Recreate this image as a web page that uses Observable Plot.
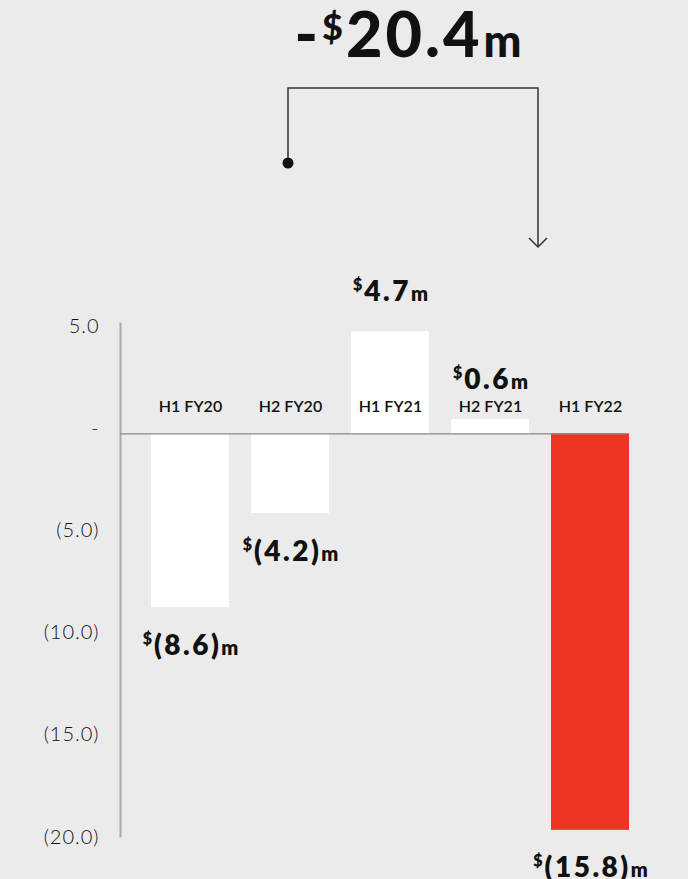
<!DOCTYPE html>
<html><head><meta charset="utf-8">
<script src="https://cdn.jsdelivr.net/npm/d3@7"></script>
<script src="https://cdn.jsdelivr.net/npm/@observablehq/plot@0.6"></script>
<style>
html,body{margin:0;padding:0;background:#ebebeb;}
#wrap{position:relative;width:688px;height:879px;overflow:hidden;background:#ebebeb;}
#head{position:absolute;left:0;top:0;overflow:visible;}
#chart{position:absolute;left:0;top:260px;}
</style></head><body>
<div id="wrap">
<svg id="head" width="688" height="260" font-family="Lato, sans-serif">
  <text id="headline" x="408" y="57" text-anchor="middle" font-size="63" font-weight="900" fill="#111"></text>
  <path d="M288,163V88H538V247" fill="none" stroke="#333" stroke-width="1.5"/>
  <path d="M529,238L538,247L547,238" fill="none" stroke="#333" stroke-width="1.5"/>
  <circle cx="288" cy="163" r="5.5" fill="#111"/>
</svg>
<div id="chart"></div>
</div>
<script>
// ---- data ----
const categories = ["H1 FY20", "H2 FY20", "H1 FY21", "H2 FY21", "H1 FY22"];
const barValues = [-8.5, -3.9, 5.0, 0.7, -19.4];          // bar ends as drawn
const valueLabels = ["(8.6)", "(4.2)", "4.7", "0.6", "(15.8)"];
const yTicks = [5, 0, -5, -10, -15, -20];
const highlight = "H1 FY22";
const headlineParts = ["-", "$", "20.4", "m"];

// ---- headline ----
const hl = d3.select("#headline");
hl.append("tspan").text(headlineParts[0]);
hl.append("tspan").attr("font-size", 36).attr("dy", -17).attr("dx", 4).text(headlineParts[1]);
hl.append("tspan").attr("dy", 17).attr("dx", 3).attr("letter-spacing", 3).text(headlineParts[2]);
hl.append("tspan").attr("font-size", 45).attr("dx", 1).text(headlineParts[3]);

// ---- chart ----
const data = categories.map((c, i) => ({cat: c, value: barValues[i], label: valueLabels[i]}));
const fmt = v => v === 0 ? "-" : v > 0 ? v.toFixed(1) : `(${Math.abs(v).toFixed(1)})`;
const labelFont = {fontSize: 28, fontWeight: 800, fill: "#111"};

const chart = Plot.plot({
  width: 688, height: 619,
  marginLeft: 120, marginRight: 28, marginTop: 63, marginBottom: 43,
  style: {background: "transparent", fontFamily: "Lato, sans-serif", overflow: "visible"},
  x: {domain: categories, paddingInner: 0.224, paddingOuter: 0.3, axis: null},
  y: {domain: [-19.7, 5.4], axis: null},
  color: {type: "identity"},
  marks: [
    Plot.barY(data, {x: "cat", y: "value", fill: d => d.cat === highlight ? "#ee3524" : "#ffffff"}),
    Plot.frame({anchor: "left", stroke: "#aaaaaa", strokeWidth: 2}),
    Plot.ruleY([0], {stroke: "#888888", strokeWidth: 1.3, insetRight: 34}),
    Plot.axisY(yTicks, {label: null, tickSize: 0, tickPadding: 21, tickFormat: fmt, fontSize: 20, fontWeight: 300, fill: "#111", dy: -5.5}),
    Plot.text(data, {x: "cat", y: 0, text: "cat", dy: -27, fontSize: 16, fontWeight: 600, fill: "#111"}),
    Plot.text(data.filter(d => d.value < 0), {x: "cat", y: "value", text: "label", dy: 38, ...labelFont}),
    Plot.text(data.filter(d => d.value >= 0), {x: "cat", y: "value", text: "label", dy: -40, ...labelFont})
  ]
});
document.getElementById("chart").appendChild(chart);

// axis tick letter spacing
d3.select(chart).selectAll("text").filter(function() { return /^\(?[\d.]+\)?$|^-$/.test(this.textContent) && !valueLabels.includes(this.textContent); })
  .attr("letter-spacing", 1);

// rich-text value labels: superscript $, bold number, small m
d3.select(chart).selectAll("text").filter(function() { return valueLabels.includes(this.textContent); }).each(function() {
  const t = this.textContent;
  const s = d3.select(this);
  s.text("");
  s.append("tspan").attr("font-size", 16).attr("dy", -11).text("$");
  s.append("tspan").attr("dy", 11).attr("dx", 2).attr("letter-spacing", 2.5).text(t);
  s.append("tspan").attr("font-size", 20).attr("dx", 0).text("m");
});
</script>
</body></html>
